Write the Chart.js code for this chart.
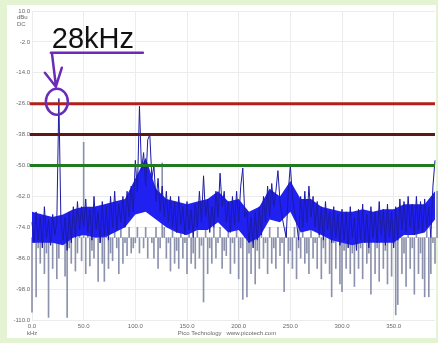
<!DOCTYPE html>
<html>
<head>
<meta charset="utf-8">
<script src="https://cdn.jsdelivr.net/npm/chart.js@4.4.0/dist/chart.umd.min.js"></script>
<style>
  html, body { margin: 0; padding: 0; background: #e4f4d2; }
  #wrap { width: 438px; height: 343px; }
</style>
</head>
<body>
<div id="wrap"><canvas id="js-chart" width="438" height="343"></canvas></div>
<script>
// spectrum trace, one value every 2 kHz starting at 0 kHz (dBu)
const STEP_KHZ = 2;

const blueTrace = [
  -72, -80, -68, -79, -70, -82, -66, -78, -71, -81, // 0-18
  -69, -77, -72, -24, -72, -79, -70, -83, -68, -80, // 20-38
  -66, -78, -64, -75, -66, -74, -63, -76, -67, -79, // 40-58
  -62, -75, -68, -80, -64, -77, -66, -79, -62, -74, // 60-78
  -60, -75, -65, -72, -62, -74, -60, -70, -58, -68, // 80-98
  -48, -60, -27, -52, -45, -58, -40, -38, -55, -50, // 100-118
  -64, -55, -68, -58, -70, -60, -72, -62, -74, -64, // 120-138
  -76, -62, -73, -66, -77, -64, -75, -67, -78, -65, // 140-158
  -74, -60, -72, -54, -70, -63, -76, -66, -74, -60, // 160-178
  -70, -53, -66, -60, -72, -64, -76, -62, -73, -60, // 180-198
  -72, -58, -51, -70, -68, -80, -70, -82, -68, -79, // 200-218
  -66, -77, -62, -72, -58, -70, -57, -66, -60, -52, // 220-238
  -64, -70, -74, -78, -60, -50, -62, -68, -72, -79, // 240-258
  -62, -74, -60, -72, -58, -70, -62, -74, -64, -77, // 260-278
  -66, -79, -64, -75, -68, -80, -66, -78, -69, -81, // 280-298
  -67, -79, -68, -82, -66, -78, -70, -83, -67, -79, // 300-318
  -65, -80, -69, -82, -66, -78, -68, -80, -64, -77, // 320-338
  -67, -81, -65, -78, -68, -82, -66, -79, -63, -75, // 340-358
  -64, -76, -62, -74, -65, -77, -62, -75, -64, -76, // 360-378
  -63, -74, -66, -78, -58, -48, -50                 // 380-392
];

// lighter drops (and a few rises) around the blue band
const GREY_REST = -78;
const greyTrace = [
  -107, -74, -101, -82, -88, -74, -92, -84, -109, -74, // 0-18
  -90, -80, -94, -86, -74, -74, -93, -109, -82, -88,   // 20-38
  -74, -91, -84, -74, -87, -41, -92, -74, -89, -83,    // 40-58
  -86, -74, -95, -80, -88, -95, -74, -90, -84, -87,    // 60-78
  -74, -82, -92, -74, -88, -80, -85, -74, -84, -82,    // 80-98
  -80, -74, -84, -78, -82, -74, -86, -78, -80, -86,    // 100-118
  -74, -90, -82, -49, -74, -86, -80, -91, -74, -88,    // 120-138
  -83, -90, -74, -86, -80, -92, -74, -88, -84, -90,    // 140-158
  -74, -86, -81, -103, -74, -92, -82, -88, -74, -86,   // 160-178
  -80, -74, -90, -83, -85, -74, -92, -80, -88, -74,    // 180-198
  -94, -82, -102, -74, -101, -84, -92, -74, -96, -83,  // 200-218
  -90, -74, -86, -80, -92, -74, -88, -82, -90, -74,    // 220-238
  -85, -80, -99, -74, -88, -83, -90, -74, -94, -82,    // 240-258
  -86, -74, -88, -84, -92, -74, -86, -80, -90, -74,    // 260-278
  -94, -82, -88, -74, -92, -101, -80, -90, -74, -96,   // 280-298
  -99, -83, -90, -74, -92, -84, -97, -74, -90, -82,    // 300-318
  -94, -74, -88, -84, -100, -74, -92, -82, -95, -74,   // 320-338
  -90, -83, -96, -74, -93, -80, -108, -104, -74, -92,  // 340-358
  -84, -97, -74, -90, -82, -100, -74, -92, -84, -94,   // 360-378
  -101, -74, -101, -92, -80, -88, -60                  // 380-392
];

// dense core of the noise floor, one value every 10 kHz
const BAND_STEP_KHZ = 10;
const bandTop = [
  -68, -69, -70, -69, -67, -66, -66, -65, -64, -63, // 0-90
  -55, -47, -59, -63, -64, -65, -64, -63, -60, -64, // 100-190
  -63, -68, -66, -59, -62, -56, -63, -63, -66, -67, // 200-290
  -68, -68, -67, -68, -67, -67, -65, -65, -65, -60  // 300-390
];
const bandBottom = [
  -80, -80, -80, -81, -78, -77, -78, -78, -76, -74, // 0-90
  -69, -68, -71, -74, -76, -77, -75, -75, -72, -76, // 100-190
  -75, -80, -78, -71, -72, -68, -76, -75, -77, -79, // 200-290
  -80, -81, -80, -80, -80, -80, -77, -77, -76, -71  // 300-390
];

// reference levels drawn across the plot
const refLevels = [-26, -38, -50];
const refColors = ["#b3201c", "#5e1616", "#217a21"];

const xTicks = [0, 50, 100, 150, 200, 250, 300, 350];
const X_MAX = 390;
const Y_MIN = -110;
const Y_MAX = 10;
const Y_STEP = 12;

const SPIKE_KHZ = 26;
const SPIKE_LABEL = "28kHz";

function toPoints(values, step) {
  return values.map((v, i) => ({ x: i * step, y: v }));
}

function toDrops(values, step) {
  return values.map((v, i) => ({ x: i * step, y: [v, GREY_REST] }));
}

const panelPlugin = {
  id: "panel",
  beforeDraw(chart) {
    const ctx = chart.ctx;
    ctx.save();
    ctx.fillStyle = "#ffffff";
    ctx.fillRect(7, 5, 429, 333);
    ctx.restore();
  },
  afterDraw(chart) {
    const ctx = chart.ctx;
    const x = chart.scales.x;
    const y = chart.scales.y;
    ctx.save();

    // units under the top tick and the axis name
    ctx.fillStyle = "#666";
    ctx.font = "6px 'Liberation Sans'";
    ctx.textAlign = "left";
    ctx.fillText("dBu", 17, 19);
    ctx.fillText("DC", 17, 26);
    ctx.fillText("kHz", 27, 335);
    ctx.textAlign = "center";
    ctx.fillText("Pico Technology   www.picotech.com", 227, 335);

    // 28kHz call-out
    const cx = x.getPixelForValue(SPIKE_KHZ) - 2;
    const cy = y.getPixelForValue(refLevels[0]) - 2;
    ctx.fillStyle = "#111";
    ctx.font = "29px 'Liberation Sans'";
    ctx.textAlign = "left";
    ctx.fillText(SPIKE_LABEL, cx - 5, cy - 54);

    ctx.strokeStyle = "#6a2cb8";
    ctx.lineWidth = 2.5;
    ctx.lineCap = "round";
    ctx.beginPath();
    ctx.moveTo(cx - 6, cy - 49);
    ctx.lineTo(cx + 86, cy - 49);
    ctx.moveTo(cx - 5, cy - 49);
    ctx.lineTo(cx - 1, cy - 16);
    ctx.moveTo(cx - 12, cy - 29);
    ctx.lineTo(cx - 1, cy - 15);
    ctx.lineTo(cx + 5, cy - 34);
    ctx.stroke();

    ctx.beginPath();
    ctx.ellipse(cx, cy, 11, 13, 0, 0, Math.PI * 2);
    ctx.stroke();

    ctx.restore();
  },
};

function drawChart() {
  const context = document.getElementById("js-chart").getContext("2d");

  const refSets = refLevels.map((level, i) => ({
    label: "ref " + level,
    data: [
      { x: -2, y: level },
      { x: X_MAX, y: level },
    ],
    borderColor: refColors[i],
    borderWidth: 3,
    pointRadius: 0,
    fill: false,
    order: 0,
  }));

  const spectrumChart = new Chart(context, {
    type: "line",
    data: {
      datasets: [
        ...refSets,
        {
          label: "Spectrum",
          data: toPoints(blueTrace, STEP_KHZ),
          borderColor: "#1b1ba6",
          borderWidth: 1,
          pointRadius: 0,
          tension: 0,
          fill: false,
          order: 1,
        },
        {
          label: "Band floor",
          data: toPoints(bandBottom, BAND_STEP_KHZ),
          borderColor: "#2020f0",
          borderWidth: 0,
          pointRadius: 0,
          fill: false,
          order: 2,
        },
        {
          label: "Band top",
          data: toPoints(bandTop, BAND_STEP_KHZ),
          borderColor: "#2020f0",
          backgroundColor: "#2020f0",
          borderWidth: 0,
          pointRadius: 0,
          fill: "-1",
          order: 2,
        },
        {
          type: "bar",
          label: "Drops",
          data: toDrops(greyTrace, STEP_KHZ),
          backgroundColor: "#8c92ad",
          borderWidth: 0,
          barThickness: 1,
          grouped: false,
          order: 3,
        },
      ],
    },
    options: {
      responsive: false,
      animation: false,
      clip: false,
      layout: { padding: { left: 7, right: 3, top: 11, bottom: 12 } },
      plugins: {
        legend: { display: false },
        tooltip: { enabled: false },
      },
      scales: {
        x: {
          type: "linear",
          min: 0,
          max: X_MAX,
          offset: false,
          afterFit: (scale) => {
            scale.height = 11;
          },
          afterBuildTicks: (scale) => {
            scale.ticks = xTicks.map((v) => ({ value: v }));
          },
          grid: { color: "#ececec", drawTicks: false, offset: false },
          border: { display: false },
          ticks: {
            color: "#666",
            font: { family: "Liberation Sans", size: 6 },
            padding: 3,
            maxRotation: 0,
            callback: (value) => value.toFixed(1),
          },
        },
        y: {
          min: Y_MIN,
          max: Y_MAX,
          afterFit: (scale) => {
            scale.width = 25;
          },
          grid: { color: "#ececec", drawTicks: false },
          border: { display: false },
          ticks: {
            stepSize: Y_STEP,
            color: "#666",
            font: { family: "Liberation Sans", size: 6 },
            padding: 2,
            callback: (value) => value.toFixed(1),
          },
        },
      },
    },
    plugins: [panelPlugin],
  });
  return spectrumChart;
}

drawChart();
</script>
</body>
</html>
